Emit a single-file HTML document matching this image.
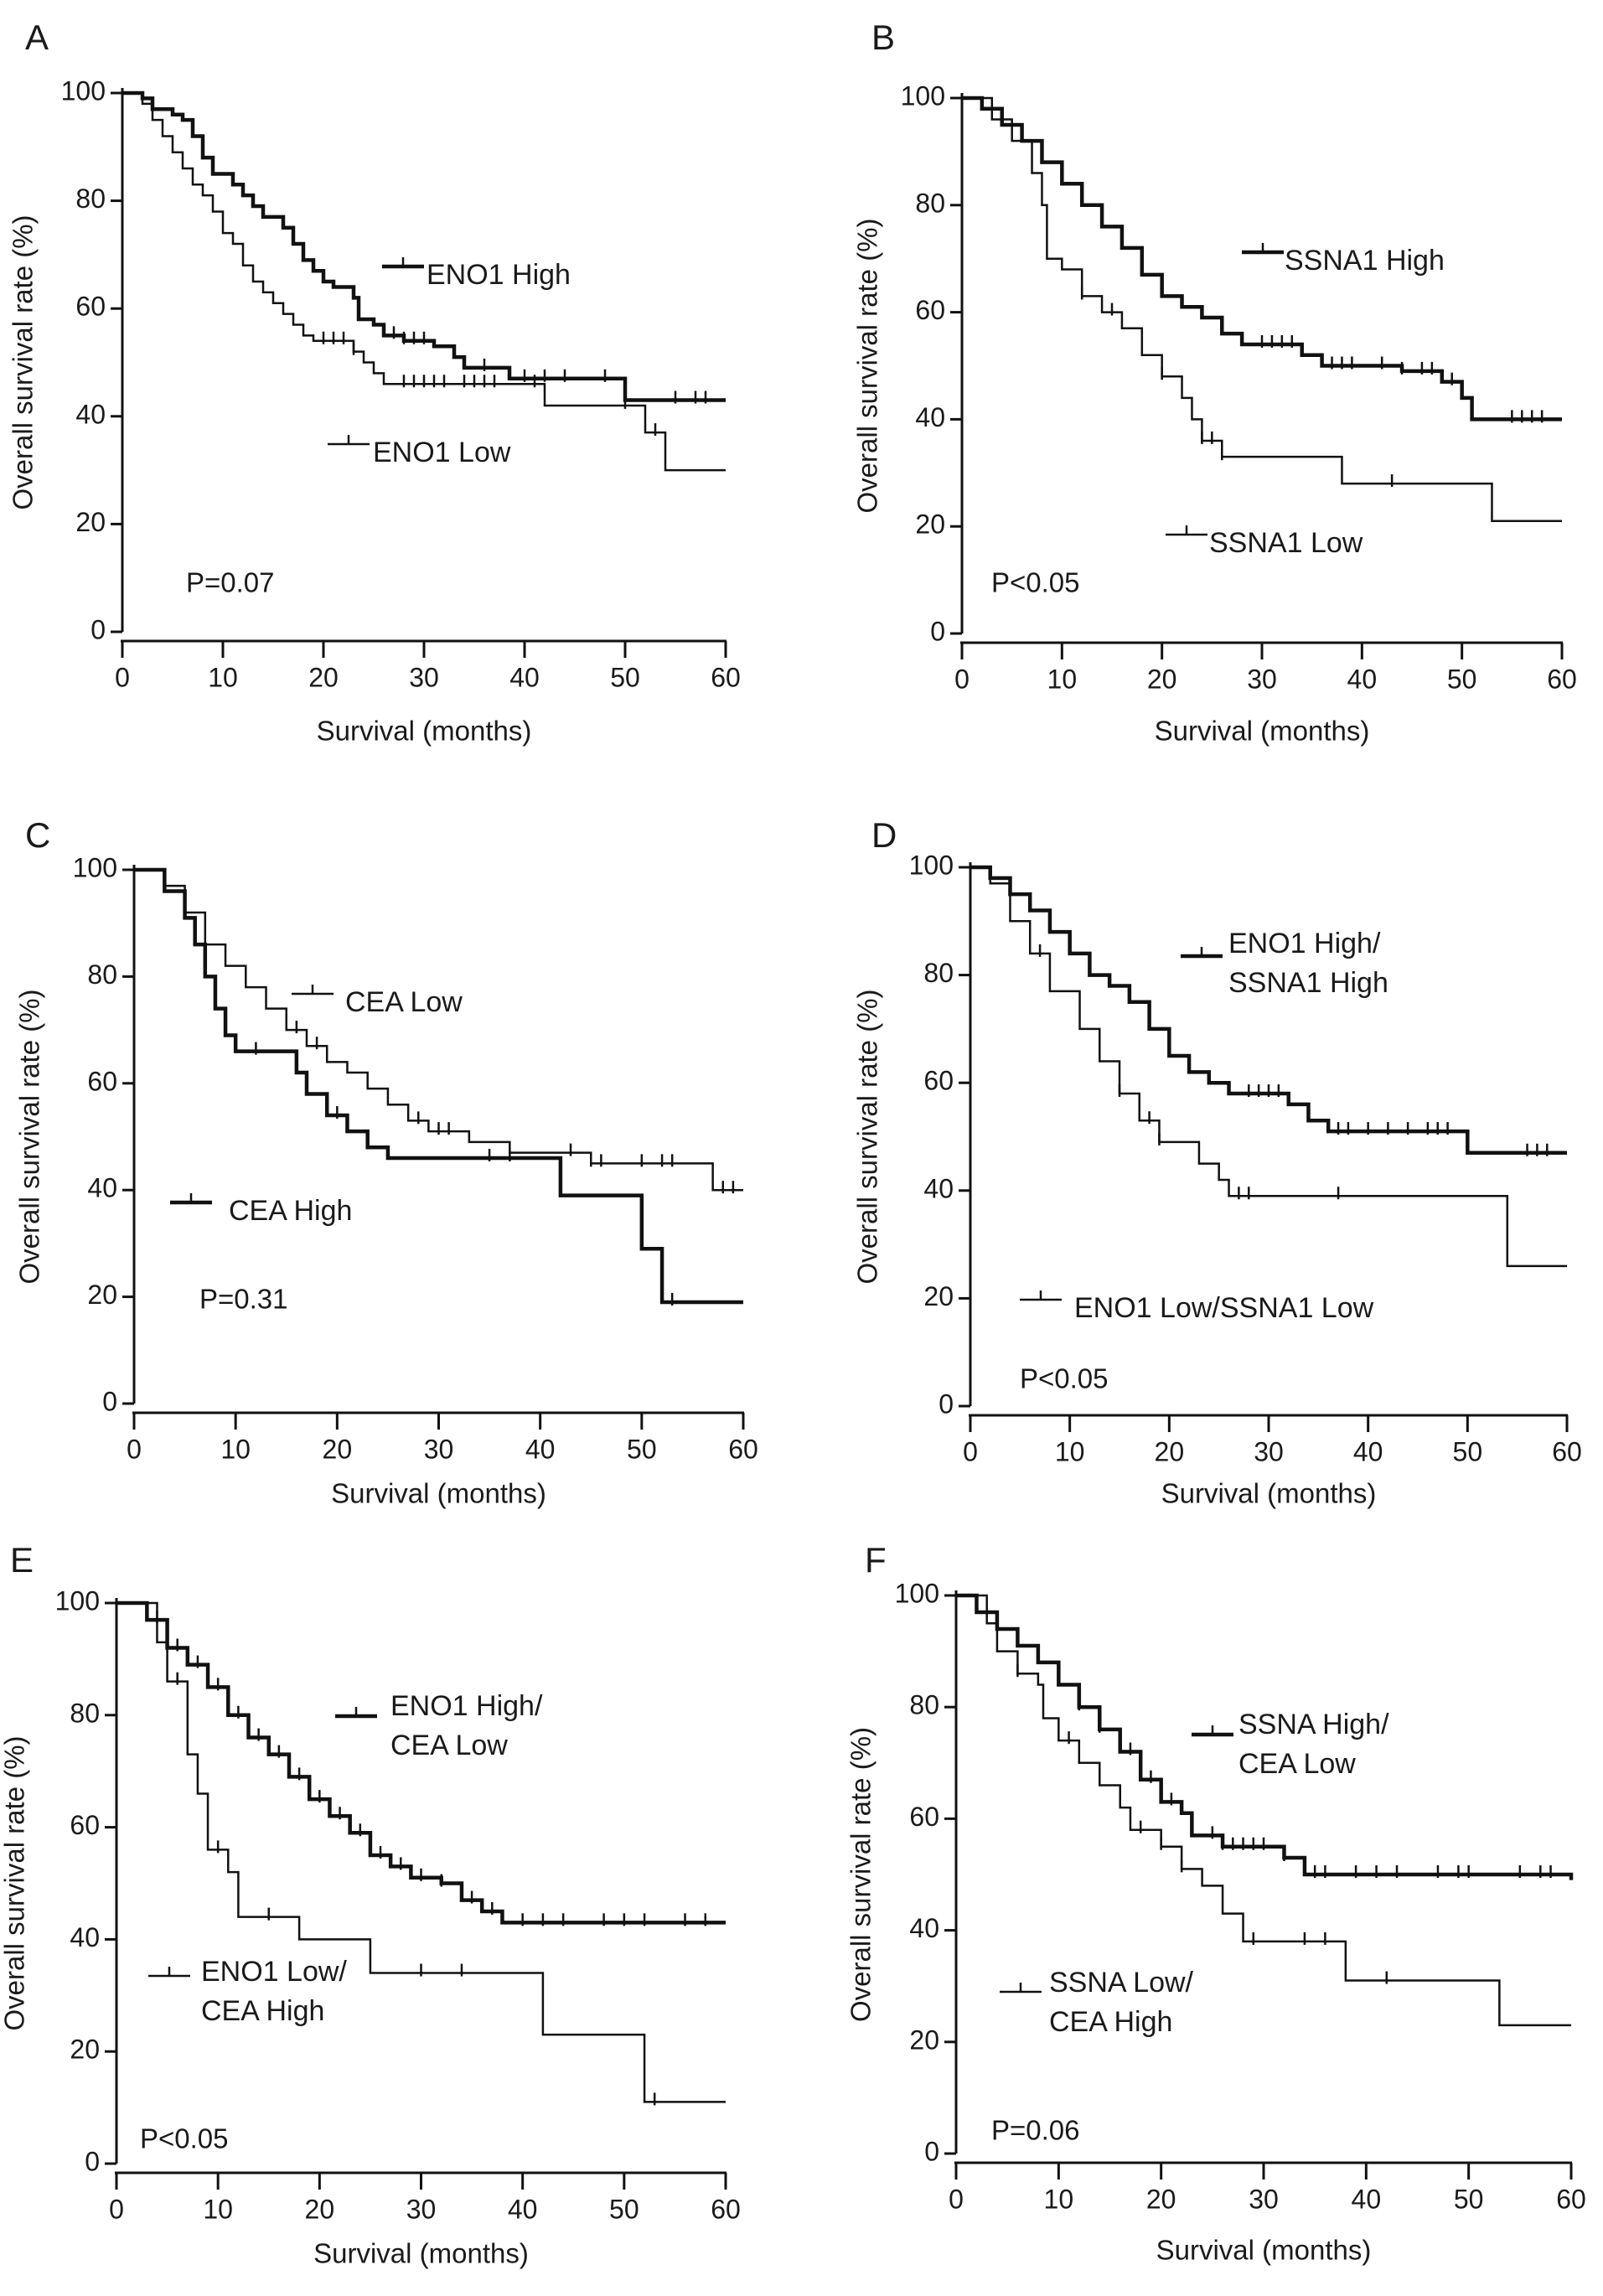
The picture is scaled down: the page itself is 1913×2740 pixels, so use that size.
<!DOCTYPE html>
<html><head><meta charset="utf-8"><style>
html,body{margin:0;padding:0;background:#fff;}
svg{display:block;font-family:"Liberation Sans",Arial,sans-serif;}
text{fill:#1a1a1a;}
</style></head><body>
<svg id="fig" width="1913" height="2740" viewBox="0 0 1913 2740" xmlns="http://www.w3.org/2000/svg"></svg>
<script>
// ---- data ----
const xTicks=[0,10,20,30,40,50,60];
const yTicks=[0,20,40,60,80,100];
const panelLabels=["A","B","C","D","E","F"];
const pValues=["P=0.07","P<0.05","P=0.31","P<0.05","P<0.05","P=0.06"];
// A
const aHighT=[0,2,3,5,6,7,8,9,11,12,13,14,16,17,18,19,20,21,23,23.5,25,26,28,31,33,34,38.5,50,60];
const aHighS=[100,99,97,96,95,92,88,85,83,81,79,77,75,72,69,67,65,64,62,58,57,55,54,53,51,49,47,43,43];
const aHighC=[27,28,29,30,36,40,42,44,48,55,57,58];
const aLowT=[0,2,3,4,5,6,7,8,9,10,11,12,13,14,15,16,17,18,19,23,24,25,26,42,52,54,60];
const aLowS=[100,98,95,92,89,86,83,81,78,74,72,68,65,63,61,59,57,55,54,52,50,48,46,42,37,30,30];
const aLowC=[20,21,22,23,28,29,30,31,32,34,35,36,37,41,50,53];
// B
const bHighT=[0,2,4,6,8,10,12,14,16,18,20,22,24,26,28,34,36,44,48,50,51,60];
const bHighS=[100,98,95,92,88,84,80,76,72,67,63,61,59,56,54,52,50,49,47,44,40,40];
const bHighC=[30,31,32,33,37,38,39,42,44,46,47,49,55,56,57,58];
const bLowT=[0,3,5,7,8,8.5,10,12,14,16,18,20,22,23,24,26,38,53,60];
const bLowS=[100,96,92,86,80,70,68,63,60,57,52,48,44,40,36,33,28,21,21];
const bLowC=[12,15,20,24,25,26,43];
// C
const cLowT=[0,3,5,7,9,11,13,15,17,19,21,23,25,27,29,33,37,45,57,60];
const cLowS=[100,97,92,86,82,78,74,70,67,64,62,59,56,53,51,49,47,45,40,40];
const cLowC=[16,18,28,30,31,43,45,46,50,52,53,58,59];
const cHighT=[0,3,5,6,7,8,9,10,14,16,17,19,21,23,25,42,50,52,60];
const cHighS=[100,96,91,86,80,74,69,66,66,62,58,54,51,48,46,39,29,19,19];
const cHighC=[12,20,35,37,53];
// D
const dHighT=[0,2,4,6,8,10,12,14,16,18,20,22,24,26,32,34,36,50,60];
const dHighS=[100,98,95,92,88,84,80,78,75,70,65,62,60,58,56,53,51,47,47];
const dHighC=[28,29,30,31,37,38,40,42,44,46,47,48,56,57,58];
const dLowT=[0,2,4,6,8,11,13,15,17,19,23,25,26,54,60];
const dLowS=[100,97,90,84,77,70,64,58,53,49,45,42,39,26,26];
const dLowC=[7,15,18,19,27,28,37];
// E
const eHighT=[0,3,5,7,9,11,13,15,17,19,21,23,25,27,29,32,34,36,38,60];
const eHighS=[100,97,92,89,85,80,76,73,69,65,62,59,55,53,51,50,47,45,43,43];
const eHighC=[4,6,8,10,12,14,16,18,20,22,24,26,28,30,32,35,37,40,42,44,48,50,52,56,58];
const eLowT=[0,4,5,7,8,9,11,12,18,25,42,52,60];
const eLowS=[100,93,86,73,66,56,52,44,40,34,23,11,11];
const eLowC=[6,10,15,30,34,53];
// F
const fHighT=[0,2,4,6,8,10,12,14,16,18,20,22,23,26,30,32,34,60];
const fHighS=[100,97,94,91,88,84,80,76,72,67,63,61,57,55,55,53,50,49];
const fHighC=[12,14,17,19,21,25,26,27,28,29,30,32,35,36,39,41,43,47,49,50,55,57,58];
const fLowT=[0,3,4,6,8,8.5,10,12,14,16,17,20,22,24,26,28,38,53,60];
const fLowS=[100,95,90,86,84,78,74,70,66,62,58,55,51,48,43,38,31,23,23];
const fLowC=[6,11,18,20,22,29,34,36,42];

// ---- layout ----
const panels=[
 {x0:146,x60:866,y100:111,y0:754,lab:[30,48],ylx:30,title:875,
  curves:[[aHighT,aHighS,aHighC,4.5],[aLowT,aLowS,aLowC,2.5]],
  legend:[{lx:456,ly:318,thick:4.5,lines:["ENO1 High"],tx:509,ty:330},{lx:391,ly:530,thick:2.5,lines:["ENO1 Low"],tx:445,ty:542}],
  p:[222,698]},
 {x0:1148,x60:1864,y100:117,y0:756,lab:[1040,48],ylx:1038,title:875,
  curves:[[bHighT,bHighS,bHighC,4.5],[bLowT,bLowS,bLowC,2.5]],
  legend:[{lx:1482,ly:301,thick:4.5,lines:["SSNA1 High"],tx:1533,ty:313},{lx:1391,ly:638,thick:2.5,lines:["SSNA1 Low"],tx:1443,ty:650}],
  p:[1183,698]},
 {x0:160,x60:887,y100:1038,y0:1675,lab:[30,1000],ylx:38,title:1785,
  curves:[[cLowT,cLowS,cLowC,2.5],[cHighT,cHighS,cHighC,4.5]],
  legend:[{lx:348,ly:1186,thick:2.5,lines:["CEA Low"],tx:412,ty:1198},{lx:203,ly:1435,thick:4.5,lines:["CEA High"],tx:273,ty:1447}],
  p:[238,1553]},
 {x0:1158,x60:1870,y100:1035,y0:1678,lab:[1040,1000],ylx:1038,title:1785,
  curves:[[dHighT,dHighS,dHighC,4.5],[dLowT,dLowS,dLowC,2.5]],
  legend:[{lx:1409,ly:1141,thick:4.5,lines:["ENO1 High/","SSNA1 High"],tx:1466,ty:1128},{lx:1217,ly:1551,thick:2.5,lines:["ENO1 Low/SSNA1 Low"],tx:1282,ty:1563}],
  p:[1217,1648]},
 {x0:139,x60:866,y100:1913,y0:2582,lab:[12,1865],ylx:20,title:2692,
  curves:[[eHighT,eHighS,eHighC,4.5],[eLowT,eLowS,eLowC,2.5]],
  legend:[{lx:400,ly:2048,thick:4.5,lines:["ENO1 High/","CEA Low"],tx:466,ty:2038},{lx:177,ly:2358,thick:2.5,lines:["ENO1 Low/","CEA High"],tx:240,ty:2355}],
  p:[167,2555]},
 {x0:1141,x60:1875,y100:1904,y0:2570,lab:[1032,1865],ylx:1030,title:2688,
  curves:[[fHighT,fHighS,fHighC,4.5],[fLowT,fLowS,fLowC,2.5]],
  legend:[{lx:1422,ly:2070,thick:4.5,lines:["SSNA High/","CEA Low"],tx:1478,ty:2060},{lx:1193,ly:2377,thick:2.5,lines:["SSNA Low/","CEA High"],tx:1252,ty:2368}],
  p:[1183,2545]}
];
const NS="http://www.w3.org/2000/svg";
const svg=document.getElementById('fig');
function mk(tag,attrs,parent){const e=document.createElementNS(NS,tag);for(const k in attrs)e.setAttribute(k,attrs[k]);(parent||svg).appendChild(e);return e;}
panels.forEach((P,i)=>{
  const g=mk('g',{});
  
  
  const X=t=>P.x0+(P.x60-P.x0)*t/60;
  const Y=s=>P.y0+(P.y100-P.y0)*s/100;
  const axisY=P.y0+11;
  const lab=mk('text',{x:P.lab[0],y:P.lab[1],'font-size':42,'dominant-baseline':'middle'},g);lab.textContent=panelLabels[i];
  
  
  const ya=mk('line',{x1:P.x0,y1:Y(100)-6,x2:P.x0,y2:P.y0,stroke:'#111','stroke-width':3},g);
  
  
  yTicks.forEach(v=>{
    mk('line',{x1:P.x0-14,y1:Y(v),x2:P.x0,y2:Y(v),stroke:'#111','stroke-width':3},g);
    const t=mk('text',{x:P.x0-20,y:Y(v),'font-size':32,'text-anchor':'end','dominant-baseline':'middle'},g);t.textContent=v;
    
    
  });
  const xa=mk('line',{x1:P.x0-2,y1:axisY,x2:P.x60+1,y2:axisY,stroke:'#111','stroke-width':3},g);
  
  
  xTicks.forEach(v=>{
    mk('line',{x1:X(v),y1:axisY,x2:X(v),y2:axisY+20,stroke:'#111','stroke-width':3},g);
    const t=mk('text',{x:X(v),y:axisY+46,'font-size':32,'text-anchor':'middle','dominant-baseline':'middle'},g);t.textContent=v;
    
    
  });
  const xt=mk('text',{x:(P.x0+P.x60)/2,y:P.title,'font-size':33,'text-anchor':'middle','dominant-baseline':'middle'},g);xt.textContent='Survival (months)';
  
  
  const cy=(P.y0+P.y100)/2;
  const yt=mk('text',{x:P.ylx,y:cy,'font-size':33,'text-anchor':'middle','dominant-baseline':'middle',transform:`rotate(-90 ${P.ylx} ${cy})`},g);yt.textContent='Overall survival rate (%)';
  
  
  P.curves.forEach((c,ci)=>{
    const [T,S,C,w]=c;
    let d=`M${X(T[0])},${Y(S[0])}`;
    for(let k=1;k<T.length;k++){d+=`H${X(T[k])}V${Y(S[k])}`;}
    const p=mk('path',{d:d,fill:'none',stroke:'#111','stroke-width':w},g);
    
    
    C.forEach(ct=>{
      let s=S[0];for(let k=0;k<T.length;k++){if(T[k]<=ct)s=S[k];}
      const m=mk('line',{x1:X(ct),y1:Y(s)-11,x2:X(ct),y2:Y(s)+4,stroke:'#111','stroke-width':2.5},g);
      
      
    });
  });
  P.legend.forEach(L=>{
    const lg=mk('g',{},g);
    
    
    mk('line',{x1:L.lx,y1:L.ly,x2:L.lx+50,y2:L.ly,stroke:'#111','stroke-width':L.thick},lg);
    mk('line',{x1:L.lx+25,y1:L.ly-11,x2:L.lx+25,y2:L.ly,stroke:'#111','stroke-width':2.5},lg);
    L.lines.forEach((s,li)=>{const t=mk('text',{x:L.tx,y:L.ty+li*47,'font-size':34,'dominant-baseline':'middle'},lg);t.textContent=s;});
  });
  const pt=mk('text',{x:P.p[0],y:P.p[1],'font-size':33,'dominant-baseline':'middle'},g);pt.textContent=pValues[i];
  
  
});
</script>
</body></html>
